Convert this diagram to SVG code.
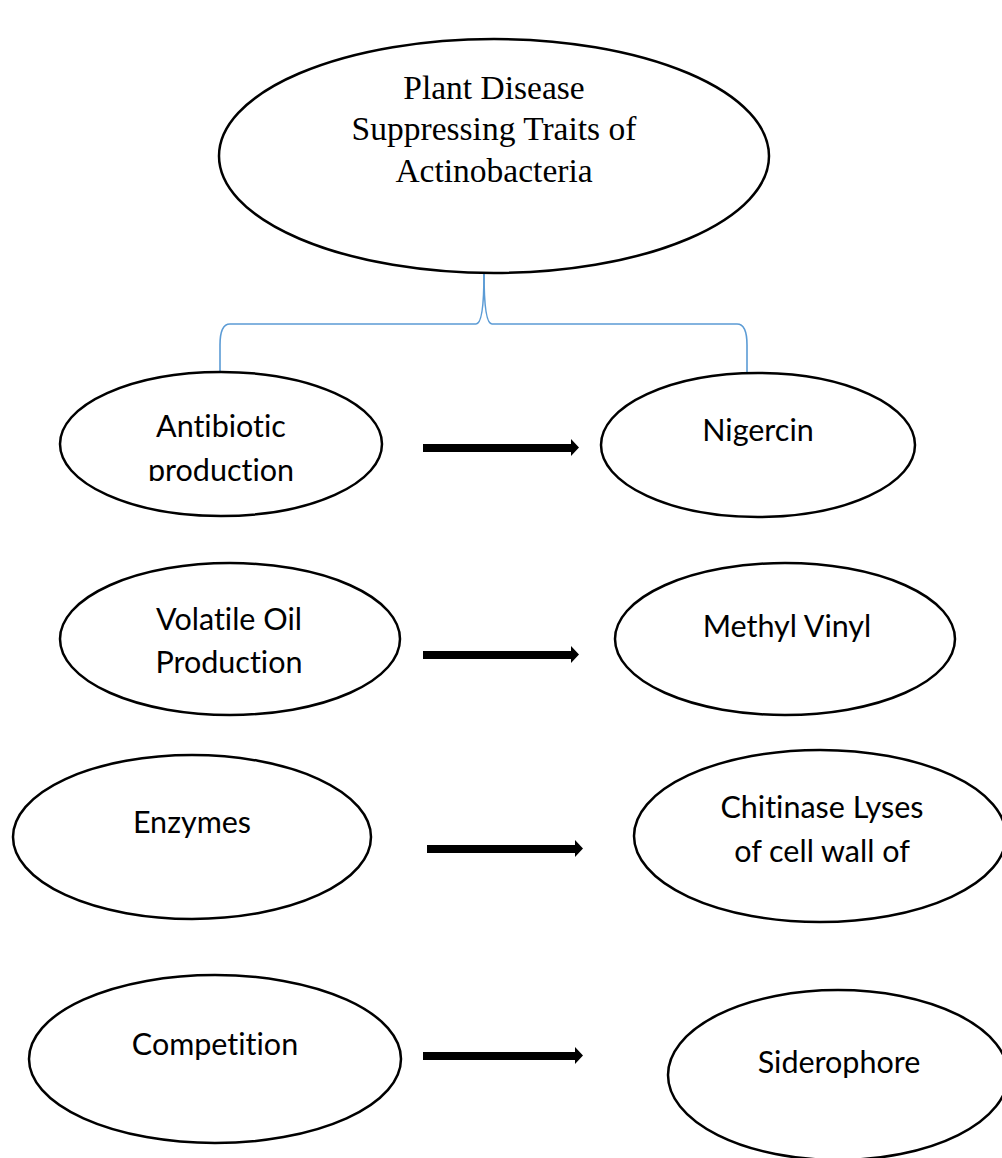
<svg xmlns="http://www.w3.org/2000/svg" width="1002" height="1158" viewBox="0 0 1002 1158">
<defs>
<style>
.node{fill:#fff;stroke:#000;stroke-width:2.5}
.t{font-family:Lato,"Open Sans","Liberation Sans",sans-serif;font-size:30.5px;fill:#000;text-anchor:middle;font-variant-ligatures:none;font-feature-settings:"liga" 0}
.title{font-family:"Liberation Serif","Times New Roman",serif;font-size:33.5px;fill:#000;text-anchor:middle}
.br{fill:none;stroke:#5B9BD5;stroke-width:1.6}
.ar{fill:#000}
</style>
<clipPath id="clipA"><rect x="0" y="370" width="400" height="111"/></clipPath>
</defs>
<rect width="1002" height="1158" fill="#fff"/>
<g id="connectors">
<path class="br" d="M484,273 Q484,324 476,324 L230,324 Q220,324 220,345 L220,372"/>
<path class="br" d="M484,273 Q484,324 492,324 L737,324 Q747,324 747,345 L747,372"/>
<path class="ar" d="M423,444 L571,444 L571,439 L579,447.5 L571,456 L571,452 L423,452 Z"/>
<path class="ar" d="M423,651 L571,651 L571,646 L579,654.5 L571,663 L571,659 L423,659 Z"/>
<path class="ar" d="M427,845 L575,845 L575,840 L583,848.5 L575,857 L575,853 L427,853 Z"/>
<path class="ar" d="M423,1052 L575,1052 L575,1047 L583,1055.5 L575,1064 L575,1060 L423,1060 Z"/>
</g>
<g id="root">
<ellipse class="node" cx="494" cy="156" rx="275" ry="117"/>
<text class="title" x="494" y="99">Plant Disease</text>
<text class="title" x="494" y="140">Suppressing Traits of</text>
<text class="title" x="494" y="182">Actinobacteria</text>
</g>
<g id="antibiotic">
<ellipse class="node" cx="221" cy="444" rx="161" ry="72"/>
<text class="t" x="221" y="437">Antibiotic</text>
<text class="t" x="221" y="481" clip-path="url(#clipA)">production</text>
</g>
<g id="nigercin">
<ellipse class="node" cx="758" cy="445" rx="157" ry="72"/>
<text class="t" x="758" y="441">Nigercin</text>
</g>
<g id="volatile">
<ellipse class="node" cx="230" cy="639" rx="170" ry="76"/>
<text class="t" x="229" y="630">Volatile Oil</text>
<text class="t" x="229" y="673">Production</text>
</g>
<g id="methyl">
<ellipse class="node" cx="785" cy="639" rx="170" ry="76"/>
<text class="t" x="787" y="637">Methyl Vinyl</text>
</g>
<g id="enzymes">
<ellipse class="node" cx="192" cy="837" rx="179" ry="82"/>
<text class="t" x="192" y="833">Enzymes</text>
</g>
<g id="chitinase">
<ellipse class="node" cx="820" cy="836" rx="186" ry="86"/>
<text class="t" x="822" y="818">Chitinase Lyses</text>
<text class="t" x="822" y="862">of cell wall of</text>
</g>
<g id="competition">
<ellipse class="node" cx="215" cy="1059" rx="186" ry="84"/>
<text class="t" x="215" y="1055">Competition</text>
</g>
<g id="siderophore">
<ellipse class="node" cx="838" cy="1075" rx="170" ry="85"/>
<text class="t" x="839" y="1073">Siderophore</text>
</g>
</svg>
